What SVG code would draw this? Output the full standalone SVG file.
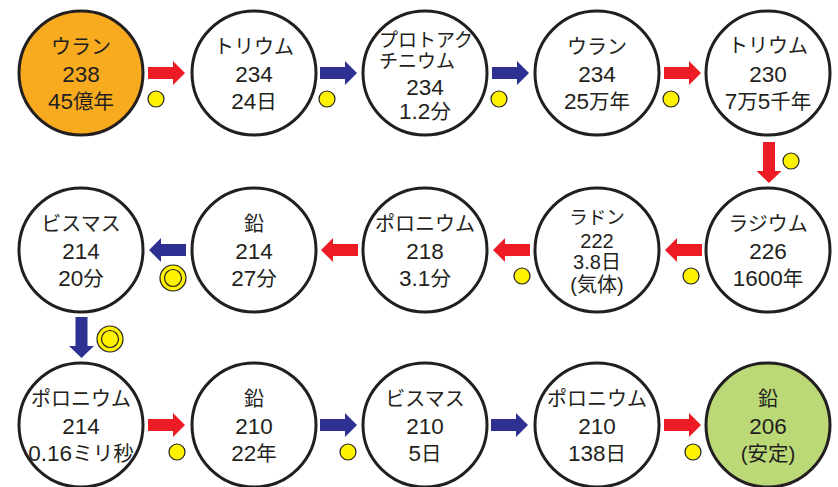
<svg xmlns="http://www.w3.org/2000/svg" xmlns:xlink="http://www.w3.org/1999/xlink" width="838" height="487" viewBox="0 0 838 487">
<style>
.node{fill:#ffffff;stroke:#231f20;stroke-width:3}
.t{font-family:"Liberation Sans","Noto Sans CJK JP",sans-serif;fill:#231f20;text-anchor:middle}
.d{font-size:22.5px}
.k{font-size:20px}
.m{font-size:20.5px}
.s{font-size:19px;text-anchor:start}
.r{font-size:20px}
.rk{font-size:18.5px}
.red{fill:#ed1c24}
.blue{fill:#2e3192}
.dot{fill:#fff200;stroke:#231f20;stroke-width:1.2}
</style>
<defs>
<path id="arr" d="M0,-6 H25 V-12 L37,0 L25,12 V6 H0 Z"/>
<path id="varr" d="M-6,0 V29 H-12.5 L0,41 L12.5,29 H6 V0 Z"/>
</defs>
<rect width="838" height="487" fill="#ffffff"/>
<g id="connectors">
<use xlink:href="#arr" class="red" transform="translate(148,73)"/>
<use xlink:href="#arr" class="blue" transform="translate(320,73)"/>
<use xlink:href="#arr" class="blue" transform="translate(492,73)"/>
<use xlink:href="#arr" class="red" transform="translate(664,73)"/>
<use xlink:href="#varr" class="red" transform="translate(769,142)"/>
<use xlink:href="#arr" class="red" transform="translate(702,250) scale(-1,1)"/>
<use xlink:href="#arr" class="red" transform="translate(530,250) scale(-1,1)"/>
<use xlink:href="#arr" class="red" transform="translate(358,250) scale(-1,1)"/>
<use xlink:href="#arr" class="blue" transform="translate(186,250) scale(-1,1)"/>
<use xlink:href="#varr" class="blue" transform="translate(81.5,317)"/>
<use xlink:href="#arr" class="red" transform="translate(148,425)"/>
<use xlink:href="#arr" class="blue" transform="translate(320,425)"/>
<use xlink:href="#arr" class="blue" transform="translate(491,425)"/>
<use xlink:href="#arr" class="red" transform="translate(664,425)"/>
<circle class="dot" cx="156" cy="99" r="8"/>
<circle class="dot" cx="327" cy="99" r="8"/>
<circle class="dot" cx="499" cy="99" r="8"/>
<circle class="dot" cx="671" cy="99" r="8"/>
<circle class="dot" cx="791" cy="161" r="8"/>
<circle class="dot" cx="691" cy="276" r="8"/>
<circle class="dot" cx="522" cy="276" r="8"/>
<circle class="dot" cx="173" cy="278" r="13"/>
<circle class="dot" cx="173" cy="278" r="8.5"/>
<circle class="dot" cx="110" cy="339" r="13"/>
<circle class="dot" cx="110" cy="339" r="8.5"/>
<circle class="dot" cx="177" cy="452" r="8"/>
<circle class="dot" cx="348" cy="452" r="8"/>
<circle class="dot" cx="693" cy="452" r="8"/>
</g>
<g id="n1"><circle class="node" cx="81" cy="73" r="62" style="fill:#f8ab1e"/>
<text class="t k" x="81" y="54">ウラン</text><text class="t d" x="81" y="82">238</text><text class="t m" x="81" y="109"><tspan class="d">45</tspan>億年</text></g>
<g id="n2"><circle class="node" cx="254" cy="73" r="62"/>
<text class="t k" x="254" y="54">トリウム</text><text class="t d" x="254" y="82">234</text><text class="t m" x="254" y="109"><tspan class="d">24</tspan>日</text></g>
<g id="n3"><circle class="node" cx="425" cy="73" r="62"/>
<text class="t s" x="379" y="47">プロトアク</text><text class="t s" x="379" y="68">チニウム</text><text class="t d" x="425" y="95">234</text><text class="t m" x="425" y="118.5"><tspan class="d">1.2</tspan>分</text></g>
<g id="n4"><circle class="node" cx="597" cy="73" r="62"/>
<text class="t k" x="597" y="54">ウラン</text><text class="t d" x="597" y="82">234</text><text class="t m" x="597" y="109"><tspan class="d">25</tspan>万年</text></g>
<g id="n5"><circle class="node" cx="768" cy="73" r="62"/>
<text class="t k" x="768" y="52.5">トリウム</text><text class="t d" x="768" y="81.5">230</text><text class="t m" x="768" y="109"><tspan class="d">7</tspan>万<tspan class="d">5</tspan>千年</text></g>
<g id="n6"><circle class="node" cx="768" cy="250" r="62"/>
<text class="t k" x="768" y="230.5">ラジウム</text><text class="t d" x="768" y="258.5">226</text><text class="t m" x="768" y="286"><tspan class="d">1600</tspan>年</text></g>
<g id="n7"><circle class="node" cx="597" cy="250" r="62"/>
<text class="t rk" x="597" y="223.5">ラドン</text><text class="t r" x="597" y="247.5">222</text><text class="t r" x="597" y="269">3.8日</text><text class="t r" x="597" y="291.5">(気体)</text></g>
<g id="n8"><circle class="node" cx="425" cy="250" r="62"/>
<text class="t k" x="425" y="230.5">ポロニウム</text><text class="t d" x="425" y="258.5">218</text><text class="t m" x="425" y="286"><tspan class="d">3.1</tspan>分</text></g>
<g id="n9"><circle class="node" cx="254" cy="250" r="62"/>
<text class="t k" x="254" y="230.5">鉛</text><text class="t d" x="254" y="258.5">214</text><text class="t m" x="254" y="286"><tspan class="d">27</tspan>分</text></g>
<g id="n10"><circle class="node" cx="81" cy="250" r="62"/>
<text class="t k" x="81" y="230.5">ビスマス</text><text class="t d" x="81" y="258.5">214</text><text class="t m" x="81" y="286"><tspan class="d">20</tspan>分</text></g>
<g id="n11"><circle class="node" cx="81" cy="425" r="62"/>
<text class="t k" x="81" y="405.5">ポロニウム</text><text class="t d" x="81" y="434">214</text><text class="t m" x="81" y="461"><tspan class="d">0.16</tspan>ミリ秒</text></g>
<g id="n12"><circle class="node" cx="254" cy="425" r="62"/>
<text class="t k" x="254" y="405.5">鉛</text><text class="t d" x="254" y="434">210</text><text class="t m" x="254" y="461"><tspan class="d">22</tspan>年</text></g>
<g id="n13"><circle class="node" cx="425" cy="425" r="62"/>
<text class="t k" x="425" y="405.5">ビスマス</text><text class="t d" x="425" y="434">210</text><text class="t m" x="425" y="461"><tspan class="d">5</tspan>日</text></g>
<g id="n14"><circle class="node" cx="597" cy="425" r="62"/>
<text class="t k" x="597" y="405.5">ポロニウム</text><text class="t d" x="597" y="434">210</text><text class="t m" x="597" y="461"><tspan class="d">138</tspan>日</text></g>
<g id="n15"><circle class="node" cx="768" cy="425" r="62" style="fill:#bbd977"/>
<text class="t k" x="768" y="405.5">鉛</text><text class="t d" x="768" y="434">206</text><text class="t m" x="768" y="461">(安定)</text></g>
</svg>
